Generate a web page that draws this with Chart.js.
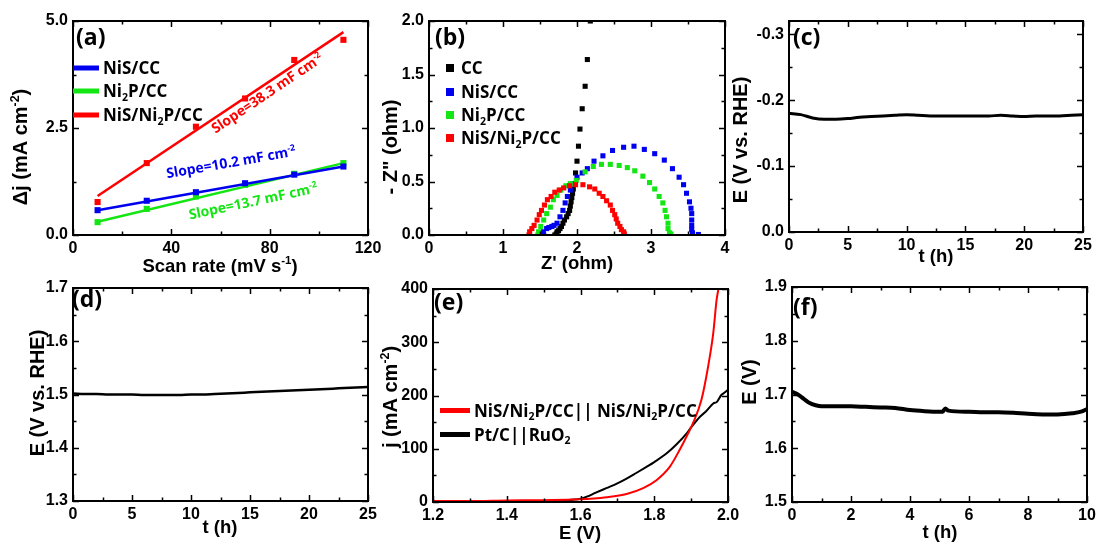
<!DOCTYPE html>
<html>
<head>
<meta charset="utf-8">
<script src="https://cdn.jsdelivr.net/npm/chart.js@4.4.1/dist/chart.umd.min.js"></script>
<style>
  html, body { margin: 0; padding: 0; background: #fff; }
  #wrap { position: relative; width: 1096px; height: 544px; overflow: hidden; }
  #wrap canvas { position: absolute; left: 0; top: 0; }
</style>
</head>
<body>
<div id="wrap">
  <canvas id="pa" width="1096" height="544"></canvas>
  <canvas id="pb" width="1096" height="544"></canvas>
  <canvas id="pc" width="1096" height="544"></canvas>
  <canvas id="pd" width="1096" height="544"></canvas>
  <canvas id="pe" width="1096" height="544"></canvas>
  <canvas id="pf" width="1096" height="544"></canvas>
</div>
<script>
// ---- (a) double-layer capacitance ----
const scanRate = [10, 30, 50, 70, 90, 110];
const djNiS = [0.58, 0.80, 1.00, 1.21, 1.41, 1.60];
const djNi2P = [0.30, 0.61, 0.90, 1.17, 1.43, 1.68];
const djHybrid = [0.77, 1.68, 2.53, 3.19, 4.09, 4.56];
const fitRate = [10, 110];
const fitNiS = [0.58, 1.60];
const fitNi2P = [0.31, 1.68];
const fitHybrid = [0.91, 4.74];

// ---- (b) Nyquist plots ----
const ccRe = [1.70, 1.72, 1.73, 1.75, 1.77, 1.79, 1.81, 1.83, 1.86, 1.88, 1.90, 1.91, 1.92, 1.93, 1.94, 1.95, 1.96, 1.98, 2.00, 2.02, 2.04, 2.07, 2.11, 2.14, 2.18];
const ccIm = [0.00, 0.01, 0.03, 0.04, 0.06, 0.08, 0.11, 0.14, 0.17, 0.20, 0.23, 0.27, 0.31, 0.35, 0.39, 0.43, 0.48, 0.58, 0.69, 0.83, 0.99, 1.18, 1.39, 1.64, 2.00];
const nisRe = [1.55, 1.545, 1.59, 1.62, 1.66, 1.69, 1.73, 1.77, 1.81, 1.84, 1.87, 1.91, 1.95, 2.00, 2.07, 2.14, 2.23, 2.35, 2.48, 2.63, 2.77, 2.91, 3.05, 3.18, 3.29, 3.38, 3.44, 3.48, 3.52, 3.54, 3.55, 3.55, 3.55, 3.55, 3.56, 3.64];
const nisIm = [0.00, 0.03, 0.06, 0.07, 0.08, 0.09, 0.11, 0.17, 0.23, 0.30, 0.36, 0.42, 0.48, 0.54, 0.58, 0.62, 0.69, 0.74, 0.79, 0.82, 0.83, 0.80, 0.76, 0.70, 0.62, 0.54, 0.47, 0.39, 0.31, 0.25, 0.20, 0.14, 0.09, 0.05, 0.02, 0.005];
const ni2pRe = [1.47, 1.48, 1.51, 1.55, 1.59, 1.64, 1.68, 1.73, 1.78, 1.85, 1.91, 1.99, 2.11, 2.22, 2.33, 2.45, 2.57, 2.68, 2.78, 2.89, 2.98, 3.05, 3.11, 3.16, 3.19, 3.21, 3.23, 3.23, 3.25, 3.27];
const ni2pIm = [0.00, 0.03, 0.08, 0.14, 0.20, 0.26, 0.33, 0.37, 0.42, 0.46, 0.48, 0.51, 0.59, 0.64, 0.66, 0.66, 0.65, 0.63, 0.60, 0.55, 0.49, 0.43, 0.36, 0.30, 0.23, 0.17, 0.11, 0.06, 0.02, 0.01];
const hybRe = [1.35, 1.36, 1.39, 1.42, 1.46, 1.49, 1.52, 1.56, 1.60, 1.65, 1.70, 1.76, 1.82, 1.90, 1.98, 2.08, 2.17, 2.24, 2.30, 2.35, 2.40, 2.45, 2.48, 2.51, 2.53, 2.55, 2.58, 2.60, 2.63, 2.64];
const hybIm = [0.00, 0.03, 0.06, 0.09, 0.14, 0.19, 0.23, 0.28, 0.33, 0.36, 0.40, 0.42, 0.44, 0.46, 0.47, 0.47, 0.45, 0.43, 0.39, 0.36, 0.32, 0.28, 0.23, 0.19, 0.15, 0.11, 0.08, 0.05, 0.03, 0.01];

// ---- (c) HER stability, (d) OER stability ----
const hours = [0, 1, 2, 3, 4, 5, 6, 7, 8, 9, 10, 11, 12, 13, 14, 15, 16, 17, 18, 19, 20, 21, 22, 23, 24, 25];
const herE = [-0.180, -0.178, -0.173, -0.171, -0.171, -0.172, -0.174, -0.175, -0.176, -0.177, -0.178, -0.177, -0.176, -0.176, -0.176, -0.176, -0.176, -0.176, -0.177, -0.176, -0.175, -0.176, -0.176, -0.176, -0.177, -0.178];
const oerE = [1.502, 1.501, 1.501, 1.500, 1.500, 1.500, 1.499, 1.499, 1.499, 1.499, 1.500, 1.500, 1.501, 1.502, 1.503, 1.504, 1.505, 1.506, 1.507, 1.508, 1.509, 1.510, 1.511, 1.512, 1.513, 1.514];

// ---- (e) two-electrode polarization ----
const cellV = [1.20, 1.30, 1.40, 1.50, 1.598, 1.67, 1.725, 1.77, 1.806, 1.842, 1.869, 1.892, 1.905, 1.928, 1.946, 1.960, 1.969, 1.974];
const cellJ = [2, 2, 3, 3.5, 5, 9, 15, 26, 41, 66, 98, 129, 148, 192, 254, 317, 379, 400];
const refV = [1.30, 1.40, 1.50, 1.55, 1.60, 1.617, 1.64, 1.67, 1.70, 1.725, 1.75, 1.779, 1.80, 1.833, 1.86, 1.888, 1.90, 1.924, 1.94, 1.96, 1.97, 1.982, 1.99, 2.00];
const refJ = [1, 1, 1.5, 3, 6, 10, 17, 26, 35, 44, 54, 66, 75, 91, 108, 129, 140, 160, 170, 185, 188, 201, 205, 211];

// ---- (f) cell stability ----
const cellHours = [0, 0.2, 0.4, 0.6, 0.8, 1, 1.5, 2, 2.5, 3, 3.5, 4, 4.5, 5, 5.1, 5.2, 5.3, 6, 6.5, 7, 7.5, 8, 8.5, 9, 9.5, 9.8, 10];
const cellE = [1.705, 1.700, 1.692, 1.684, 1.680, 1.678, 1.678, 1.678, 1.677, 1.676, 1.675, 1.671, 1.669, 1.668, 1.668, 1.674, 1.670, 1.668, 1.667, 1.667, 1.666, 1.664, 1.663, 1.663, 1.665, 1.668, 1.673];

// tick labels
const aXTicks = [0, 40, 80, 120], aYTicks = [0, 2.5, 5.0];
const bXTicks = [0, 1, 2, 3, 4], bYTicks = [0, 0.5, 1.0, 1.5, 2.0];
const hXTicks = [0, 5, 10, 15, 20, 25];
const cYTicks = [-0.3, -0.2, -0.1, 0];
const dYTicks = [1.3, 1.4, 1.5, 1.6, 1.7];
const eXTicks = [1.2, 1.4, 1.6, 1.8, 2.0], eYTicks = [0, 100, 200, 300, 400];
const fXTicks = [0, 2, 4, 6, 8, 10], fYTicks = [1.5, 1.6, 1.7, 1.8, 1.9];

const RED = '#ff0000', BLUE = '#0000f0', GREEN = '#14e614', BLACK = '#000000';
const W = 1096, H = 544, YW = 60, XH = 30;
const TICK_FONT = "'Liberation Sans', Arial, sans-serif";
const LABEL_FONT = "'Open Sans', 'Liberation Sans', sans-serif";

const pts = (xs, ys) => xs.map((x, i) => ({x: x, y: ys[i]}));

// text with _{sub} and ^{sup}
function parts(str) {
  const out = [];
  const re = /([_^])\{([^}]*)\}/g;
  let last = 0, m;
  while ((m = re.exec(str))) {
    if (m.index > last) out.push({t: str.slice(last, m.index), k: 0});
    out.push({t: m[2], k: m[1] === '_' ? 1 : 2});
    last = re.lastIndex;
  }
  if (last < str.length) out.push({t: str.slice(last), k: 0});
  return out;
}

function drawRich(ctx, str, x, y, o) {
  const ps = parts(str);
  const small = o.size * 0.62;
  const fnt = s => 'bold ' + s + 'px ' + o.family;
  let w = 0;
  ps.forEach(p => {
    ctx.font = fnt(p.k ? small : o.size);
    p.w = ctx.measureText(p.t).width;
    w += p.w;
  });
  ctx.save();
  ctx.translate(x, y);
  if (o.rot) ctx.rotate(o.rot * Math.PI / 180);
  ctx.fillStyle = o.color || BLACK;
  ctx.textBaseline = 'alphabetic';
  ctx.textAlign = 'left';
  let cx = o.align === 'center' ? -w / 2 : 0;
  const base = o.size * 0.36;
  ps.forEach(p => {
    ctx.font = fnt(p.k ? small : o.size);
    const dy = p.k === 1 ? o.size * 0.22 : (p.k === 2 ? -o.size * 0.40 : 0);
    ctx.fillText(p.t, cx, base + dy);
    cx += p.w;
  });
  ctx.restore();
}

// frame, inward ticks on four sides, titles, panel tag, legend, notes
function deco(spec) {
  return {
    id: 'deco',
    afterDraw(chart) {
      const ctx = chart.ctx, a = chart.chartArea;
      const xs = chart.scales.x, ys = chart.scales.y;
      ctx.save();
      ctx.strokeStyle = BLACK;
      ctx.lineWidth = 1.5;
      const mids = t => t.slice(0, -1).map((v, i) => (v + t[i + 1]) / 2);
      const xt = xs.ticks.map(t => t.value), yt = ys.ticks.map(t => t.value);
      ctx.beginPath();
      [[xt, 6], [mids(xt), 3.5]].forEach(([vals, len]) => vals.forEach(v => {
        const p = Math.round(xs.getPixelForValue(v)) + 0.5;
        ctx.moveTo(p, a.bottom); ctx.lineTo(p, a.bottom - len);
        ctx.moveTo(p, a.top); ctx.lineTo(p, a.top + len);
      }));
      [[yt, 6], [mids(yt), 3.5]].forEach(([vals, len]) => vals.forEach(v => {
        const p = Math.round(ys.getPixelForValue(v)) + 0.5;
        ctx.moveTo(a.left, p); ctx.lineTo(a.left + len, p);
        ctx.moveTo(a.right, p); ctx.lineTo(a.right - len, p);
      }));
      ctx.stroke();
      ctx.lineWidth = 2;
      ctx.strokeRect(a.left, a.top, a.right - a.left, a.bottom - a.top);

      drawRich(ctx, spec.xTitle[0], spec.xTitle[1], spec.xTitle[2], {size: 18.5, family: TICK_FONT, align: 'center'});
      drawRich(ctx, spec.yTitle[0], spec.yTitle[1], spec.yTitle[2], {size: 20, family: TICK_FONT, align: 'center', rot: -90});
      drawRich(ctx, spec.tag[0], spec.tag[1], spec.tag[2], {size: 23, family: LABEL_FONT});

      (spec.legend || []).forEach(it => {
        ctx.fillStyle = it.color;
        ctx.strokeStyle = it.color;
        if (it.kind === 'line') {
          ctx.lineWidth = it.lw || 5;
          ctx.beginPath();
          ctx.moveTo(it.x0, it.y); ctx.lineTo(it.x1, it.y);
          ctx.stroke();
        } else {
          ctx.fillRect(it.x0 - 4, it.y - 4, 8, 8);
        }
        drawRich(ctx, it.text, it.tx, it.y, {size: 17, family: LABEL_FONT});
      });
      (spec.notes || []).forEach(n => {
        drawRich(ctx, n.text, n.x, n.y, {size: 14, family: LABEL_FONT, align: 'center', rot: n.rot, color: n.color});
      });
      ctx.restore();
    }
  };
}

function axis(s, horiz) {
  return {
    type: 'linear', min: s.min, max: s.max, reverse: !!s.reverse,
    grid: {display: false, drawTicks: false},
    border: {display: false},
    ticks: {
      autoSkip: false, maxRotation: 0, minRotation: 0,
      padding: horiz ? 4 : 5, color: BLACK,
      font: {family: TICK_FONT, size: 16, weight: 'bold'},
      callback: v => Number(v).toFixed(s.dec)
    },
    afterBuildTicks: sc => { sc.ticks = s.ticks.map(v => ({value: v})); },
    afterFit: sc => {
      if (horiz) sc.height = XH; else sc.width = YW;
      sc.paddingLeft = 0; sc.paddingRight = 0; sc.paddingTop = 0; sc.paddingBottom = 0;
    }
  };
}

function makeChart(id, rect, xs, ys, datasets, spec) {
  const [L, T, R, B] = rect;
  return new Chart(document.getElementById(id), {
    type: 'scatter',
    data: {datasets: datasets},
    options: {
      responsive: false, animation: false, events: [],
      layout: {padding: {left: L - YW, top: T, right: W - R, bottom: H - B - XH}},
      plugins: {legend: {display: false}, tooltip: {enabled: false}},
      scales: {x: axis(xs, true), y: axis(ys, false)}
    },
    plugins: [deco(spec)]
  });
}

const markers = (data, color, r, order) => ({data: data, showLine: false, pointStyle: 'rect', pointRadius: r, pointBorderWidth: 0, backgroundColor: color, borderColor: color, order: order});
const curve = (data, color, lw, order, smooth) => ({data: data, showLine: true, pointRadius: 0, borderColor: color, borderWidth: lw, cubicInterpolationMode: smooth ? 'monotone' : 'default', order: order || 0});

// (a)
makeChart('pa', [73, 21, 368, 235],
  {min: 0, max: 120, ticks: aXTicks, dec: 0},
  {min: 0, max: 5, ticks: aYTicks, dec: 1},
  [
    curve(pts(fitRate, fitNiS), BLUE, 2.5, 1),
    curve(pts(fitRate, fitNi2P), GREEN, 2.5, 1),
    curve(pts(fitRate, fitHybrid), RED, 2.5, 1),
    markers(pts(scanRate, djNiS), BLUE, 4.3, 0),
    markers(pts(scanRate, djNi2P), GREEN, 4.3, 0),
    markers(pts(scanRate, djHybrid), RED, 4.3, 0)
  ],
  {
    xTitle: ['Scan rate (mV s^{-1})', 220, 265],
    yTitle: ['Δj (mA cm^{-2})', 20, 147],
    tag: ['(a)', 76, 37],
    legend: [
      {kind: 'line', color: BLUE, x0: 73, x1: 99, y: 68, tx: 103, text: 'NiS/CC'},
      {kind: 'line', color: GREEN, x0: 73, x1: 99, y: 91, tx: 103, text: 'Ni_{2}P/CC'},
      {kind: 'line', color: RED, x0: 73, x1: 99, y: 115, tx: 103, text: 'NiS/Ni_{2}P/CC'}
    ],
    notes: [
      {text: 'Slope=38.3 mF cm^{-2}', x: 267, y: 93, rot: -34, color: RED},
      {text: 'Slope=10.2 mF cm^{-2}', x: 231, y: 162, rot: -10, color: BLUE},
      {text: 'Slope=13.7 mF cm^{-2}', x: 253, y: 201, rot: -12, color: GREEN}
    ]
  });

// (b)
makeChart('pb', [429, 21, 725, 235],
  {min: 0, max: 4, ticks: bXTicks, dec: 0},
  {min: 0, max: 2, ticks: bYTicks, dec: 1},
  [
    markers(pts(ccRe, ccIm), BLACK, 3.6, 3),
    markers(pts(nisRe, nisIm), BLUE, 3.6, 2),
    markers(pts(ni2pRe, ni2pIm), GREEN, 3.6, 1),
    markers(pts(hybRe, hybIm), RED, 3.6, 0)
  ],
  {
    xTitle: ["Z' (ohm)", 577, 262],
    yTitle: ['- Z" (ohm)', 390, 147],
    tag: ['(b)', 435, 37],
    legend: [
      {kind: 'rect', color: BLACK, x0: 450, y: 68, tx: 461, text: 'CC'},
      {kind: 'rect', color: BLUE, x0: 450, y: 92, tx: 461, text: 'NiS/CC'},
      {kind: 'rect', color: GREEN, x0: 450, y: 115, tx: 461, text: 'Ni_{2}P/CC'},
      {kind: 'rect', color: RED, x0: 450, y: 138, tx: 461, text: 'NiS/Ni_{2}P/CC'}
    ]
  });

// (c)
makeChart('pc', [789, 21, 1083, 232],
  {min: 0, max: 25, ticks: hXTicks, dec: 0},
  {min: -0.32, max: 0, reverse: true, ticks: cYTicks, dec: 1},
  [curve(pts(hours, herE), BLACK, 3, 0, true)],
  {
    xTitle: ['t (h)', 936, 255],
    yTitle: ['E (V vs. RHE)', 740, 140],
    tag: ['(c)', 793, 37]
  });

// (d)
makeChart('pd', [73, 288, 368, 501],
  {min: 0, max: 25, ticks: hXTicks, dec: 0},
  {min: 1.3, max: 1.7, ticks: dYTicks, dec: 1},
  [curve(pts(hours, oerE), BLACK, 2.5, 0, true)],
  {
    xTitle: ['t (h)', 220, 526],
    yTitle: ['E (V vs. RHE)', 37, 393],
    tag: ['(d)', 72, 299]
  });

// (e)
makeChart('pe', [433, 289, 728, 502],
  {min: 1.2, max: 2.0, ticks: eXTicks, dec: 1},
  {min: 0, max: 400, ticks: eYTicks, dec: 0},
  [
    curve(pts(refV, refJ), BLACK, 2, 1, true),
    curve(pts(cellV, cellJ), RED, 2, 0, true)
  ],
  {
    xTitle: ['E (V)', 580, 532],
    yTitle: ['j (mA cm^{-2})', 390, 397],
    tag: ['(e)', 434, 302],
    legend: [
      {kind: 'line', color: RED, x0: 440, x1: 470, y: 410.5, tx: 474, text: 'NiS/Ni_{2}P/CC|| NiS/Ni_{2}P/CC'},
      {kind: 'line', color: BLACK, x0: 440, x1: 470, y: 434.5, tx: 474, text: 'Pt/C||RuO_{2}'}
    ]
  });

// (f)
makeChart('pf', [792, 287, 1087, 502],
  {min: 0, max: 10, ticks: fXTicks, dec: 0},
  {min: 1.5, max: 1.9, ticks: fYTicks, dec: 1},
  [curve(pts(cellHours, cellE), BLACK, 4, 0, true)],
  {
    xTitle: ['t (h)', 940, 531],
    yTitle: ['E (V)', 749, 382],
    tag: ['(f)', 793, 307]
  });
</script>
</body>
</html>
